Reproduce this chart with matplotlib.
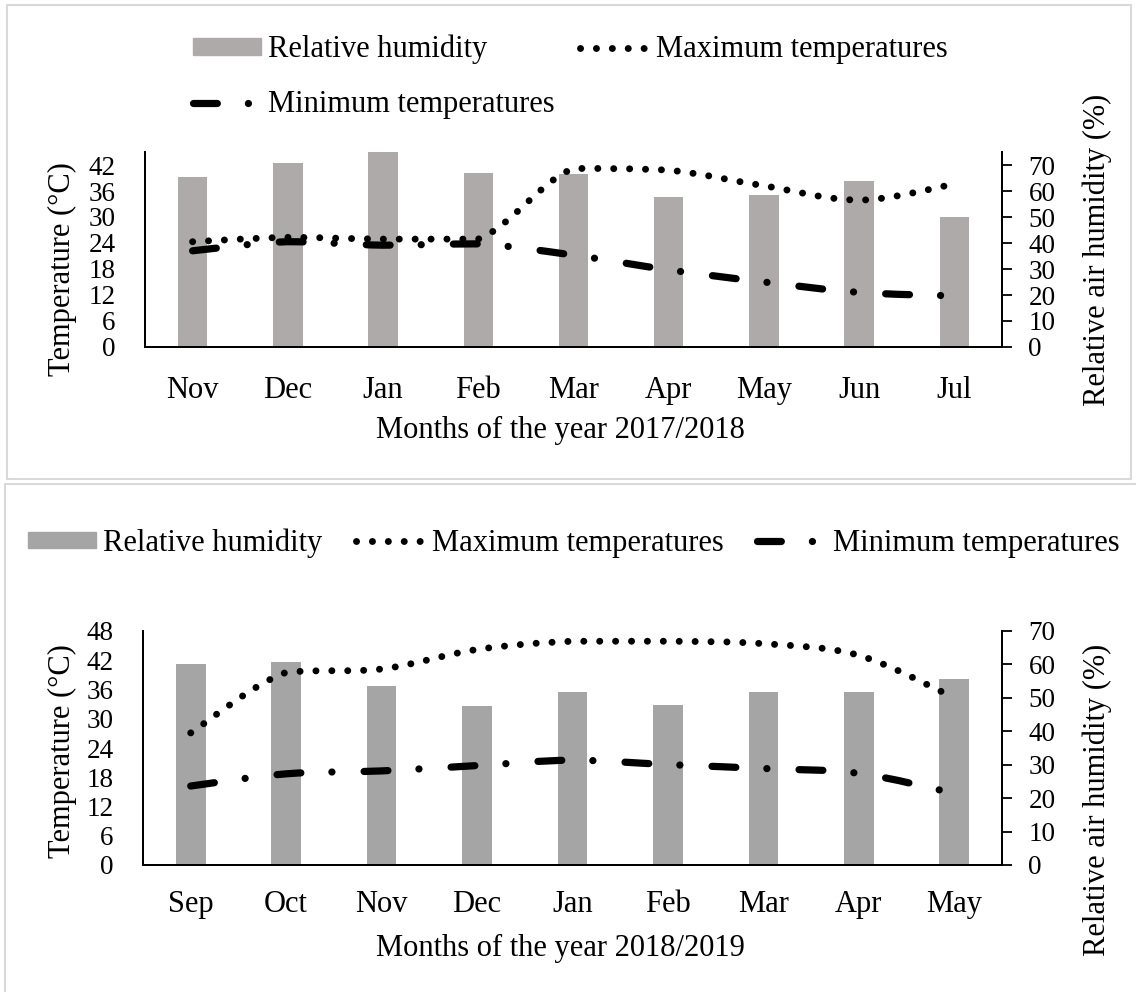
import numpy as np
import matplotlib
matplotlib.use('Agg')
import matplotlib.pyplot as plt
from matplotlib.path import Path
from matplotlib.patches import PathPatch, Rectangle
from matplotlib.lines import Line2D

plt.rcParams['font.family'] = ['Liberation Serif', 'DejaVu Serif']
plt.rcParams['font.size'] = 22

# datos
meses_1 = ['Nov', 'Dec', 'Jan', 'Feb', 'Mar', 'Apr', 'May', 'Jun', 'Jul']
humedad_1 = [65.4, 70.9, 75.0, 66.8, 66.5, 57.8, 58.5, 63.7, 50.0]
tmax_1 = [24.3, 25.3, 24.9, 24.9, 41.2, 40.8, 37.2, 33.9, 37.6]
tmin_1 = [22.2, 24.3, 23.5, 23.8, 21.2, 17.8, 15.0, 12.6, 11.8]

meses_2 = ['Sep', 'Oct', 'Nov', 'Dec', 'Jan', 'Feb', 'Mar', 'Apr', 'May']
humedad_2 = [60.2, 60.7, 53.6, 47.6, 51.9, 47.9, 51.9, 51.9, 55.6]
tmax_2 = [27.1, 39.5, 40.2, 44.2, 45.9, 45.9, 45.4, 43.0, 34.3]
tmin_2 = [16.2, 18.7, 19.3, 20.4, 21.5, 20.6, 19.8, 18.8, 14.7]

W, H = 1136, 992
fig = plt.figure(figsize=(W / 100, H / 100), dpi=100)

punteado = (0, (0.01, 2.28))             # linea de puntos redondos
raya_punto = (0, (3.3, 4.3, 0.01, 4.45))  # raya larga - punto
LW_MAX, LW_MIN = 5.0, 5.2
TAM_Y = 19.5  # tamaño de las etiquetas de los ejes y


def curva_suave(x, y):
    # curva suavizada (Catmull-Rom -> Bezier), sin sobrepasar los puntos
    pts = np.column_stack([x, y]).astype(float)
    p = np.vstack([pts[0], pts, pts[-1]])
    verts = [pts[0]]
    codes = [Path.MOVETO]
    for i in range(1, len(p) - 2):
        c1 = p[i] + (p[i + 1] - p[i - 1]) / 6
        c2 = p[i + 1] - (p[i + 2] - p[i]) / 6
        lo, hi = sorted([p[i][1], p[i + 1][1]])
        c1[1] = min(max(c1[1], lo), hi)
        c2[1] = min(max(c2[1], lo), hi)
        verts += [c1, c2, p[i + 1]]
        codes += [Path.CURVE4] * 3
    return Path(verts, codes)


def panel(rect, meses, humedad, tmax, tmin, ylim_t, ticks_t, ylim_h, color_barra, pad_x):
    ax = fig.add_axes(rect)
    ax2 = ax.twinx()
    x = np.arange(len(meses))
    ax2.bar(x, humedad, width=0.31, color=color_barra, zorder=1)
    ax.set_zorder(ax2.get_zorder() + 1)
    ax.patch.set_visible(False)
    for serie, estilo, lw in [(tmax, punteado, LW_MAX), (tmin, raya_punto, LW_MIN)]:
        pp = PathPatch(curva_suave(x, serie), fill=False, lw=lw, ls=estilo,
                       edgecolor='black', capstyle='round')
        ax.add_patch(pp)
    ax.set_xlim(-0.5, len(meses) - 0.5)
    ax.set_ylim(*ylim_t)
    ax.set_yticks(ticks_t)
    ax2.set_ylim(*ylim_h)
    ax2.set_yticks(np.arange(0, 71, 10))
    ax.set_xticks(x)
    ax.set_xticklabels(meses)
    ax.tick_params(axis='x', length=0, pad=pad_x)
    ax.tick_params(axis='y', length=0, pad=21, labelsize=TAM_Y)
    ax2.tick_params(axis='y', length=7, width=1.3, pad=12, direction='out', labelsize=TAM_Y)
    for a in (ax, ax2):
        a.spines['top'].set_visible(False)
        for s in ('left', 'right', 'bottom'):
            a.spines[s].set_linewidth(1.4)
    return ax, ax2


def fx(px):
    return px / W


def fy(py):
    return 1 - py / H


# marcos de cada panel
fig.patches.append(Rectangle((fx(7), fy(479)), fx(1131 - 7), (479 - 5) / H,
                             transform=fig.transFigure, fill=False,
                             edgecolor='#d9d9d9', lw=1.5))
fig.patches.append(Rectangle((fx(5), fy(1010)), fx(1145 - 5), (1010 - 484) / H,
                             transform=fig.transFigure, fill=False,
                             edgecolor='#d9d9d9', lw=1.5))

# panel 2017/2018
ax1, ax1b = panel([fx(145), fy(347), fx(1002 - 145), (347 - 152) / H],
                  meses_1, humedad_1, tmax_1, tmin_1,
                  (0, 45), np.arange(0, 43, 6), (0, 75), '#aeaaaa', 21)
# panel 2018/2019
ax2, ax2b = panel([fx(143), fy(865), fx(1002 - 143), (865 - 631) / H],
                  meses_2, humedad_2, tmax_2, tmin_2,
                  (0, 48), np.arange(0, 49, 6), (0, 70), '#a5a5a5', 18)

fig.text(fx(62), fy(269), 'Temperature (°C)', rotation=90, ha='center', va='center')
fig.text(fx(1097), fy(250), 'Relative air humidity (%)', rotation=90, ha='center', va='center')
fig.text(fx(560), fy(430), 'Months of the year 2017/2018', ha='center', va='center')
fig.text(fx(62), fy(751), 'Temperature (°C)', rotation=90, ha='center', va='center')
fig.text(fx(1097), fy(800), 'Relative air humidity (%)', rotation=90, ha='center', va='center')
fig.text(fx(560), fy(948), 'Months of the year 2018/2019', ha='center', va='center')


def manejadores(color_barra):
    h_rh = Rectangle((0, 0), 1, 1, color=color_barra)
    h_max = Line2D([], [], color='black', lw=LW_MAX, ls=punteado, dash_capstyle='round')
    h_min = Line2D([], [], color='black', lw=LW_MIN, ls=raya_punto, dash_capstyle='round')
    return h_rh, h_max, h_min


h_rh, h_max, h_min = manejadores('#aeaaaa')
fig.legend([h_rh, h_min, h_max],
           ['Relative humidity', 'Minimum temperatures', 'Maximum temperatures'],
           ncol=2, loc='center left', bbox_to_anchor=(fx(193), fy(77)),
           frameon=False, borderpad=0, borderaxespad=0, handlelength=2.22,
           handleheight=0.45, handletextpad=0.25, columnspacing=0.82, labelspacing=0.85)

h_rh, h_max, h_min = manejadores('#a5a5a5')
fig.legend([h_rh, h_max, h_min],
           ['Relative humidity', 'Maximum temperatures', 'Minimum temperatures'],
           ncol=3, loc='center left', bbox_to_anchor=(fx(28), fy(543)),
           frameon=False, borderpad=0, borderaxespad=0, handlelength=2.22,
           handleheight=0.45, handletextpad=0.25, columnspacing=1.1)

fig.savefig('out.png', dpi=100, facecolor='white')
